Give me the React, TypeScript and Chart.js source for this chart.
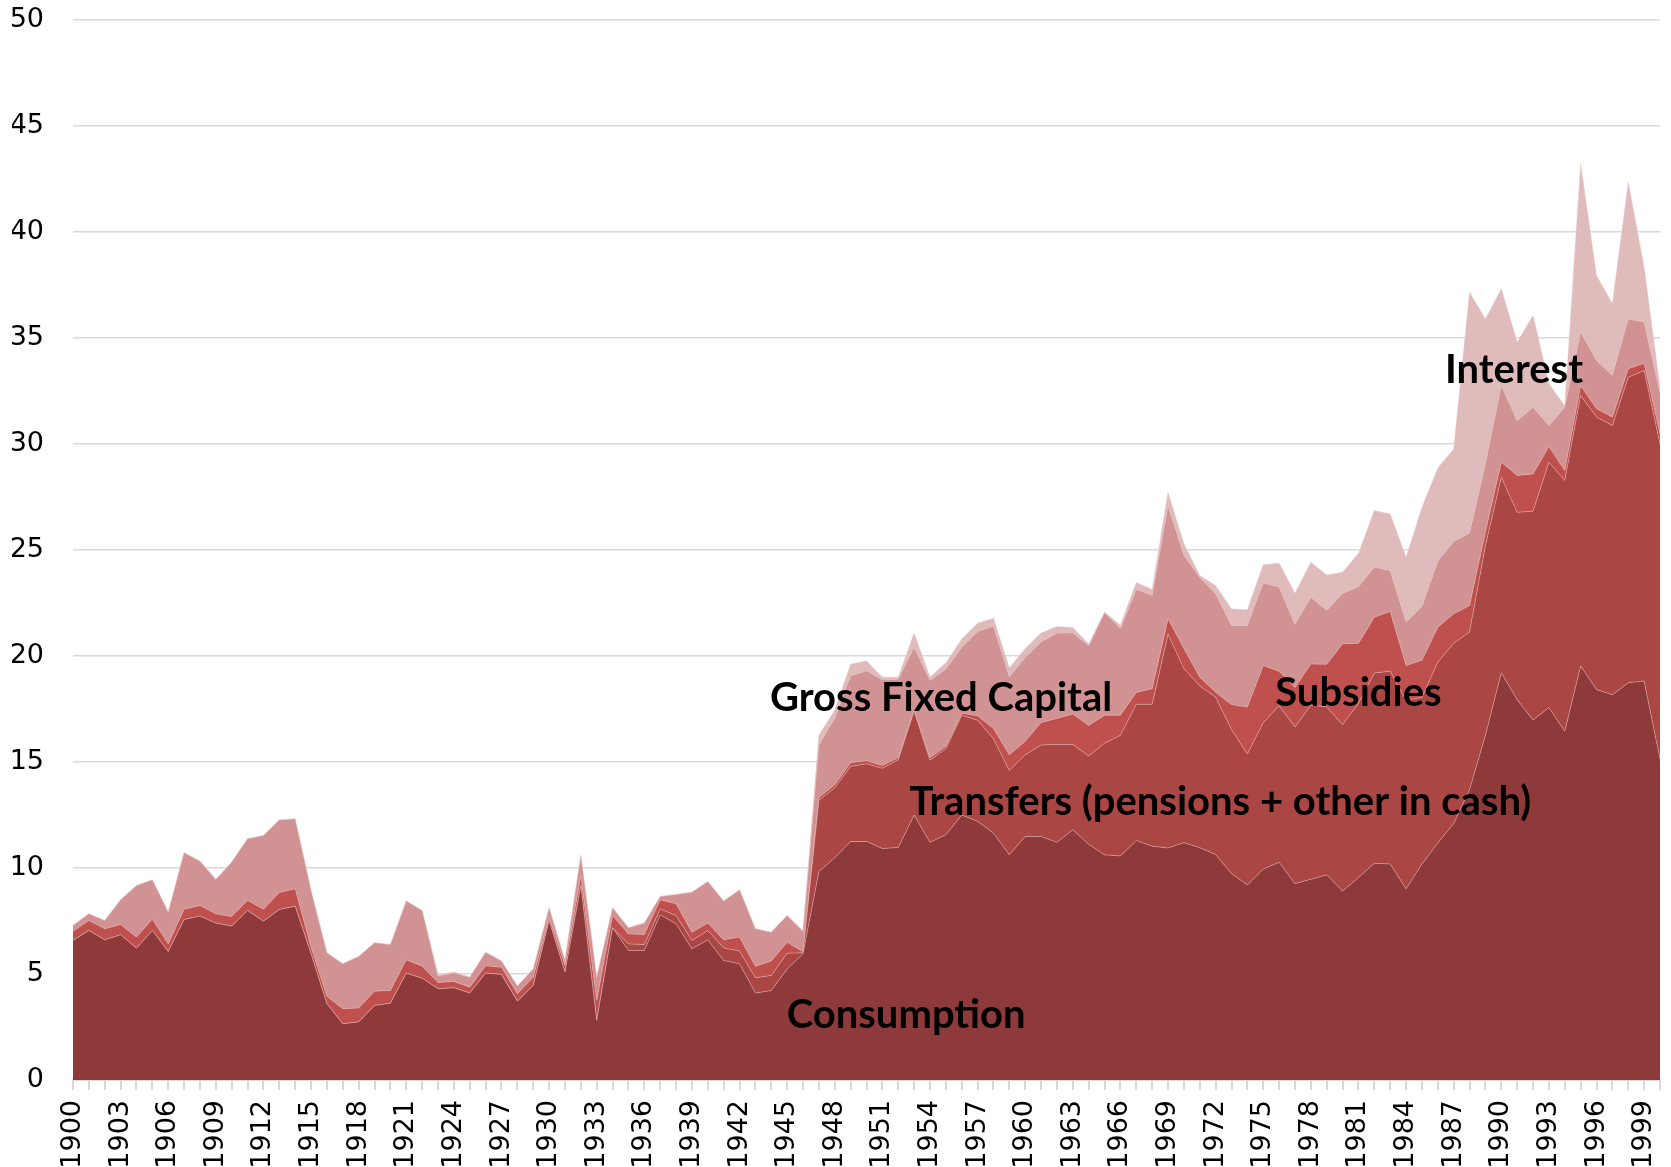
import React, { useEffect, useRef } from 'react';
import { Chart, registerables } from 'chart.js';

Chart.register(...registerables);

const years: number[] = Array.from({ length: 101 }, (_, i) => 1900 + i);

const consumption = [
  6.58, 7.05, 6.61, 6.85, 6.22, 7.05, 6.06, 7.57, 7.73, 7.40,
  7.26, 8.00, 7.49, 8.04, 8.20, 5.95, 3.60, 2.65, 2.74, 3.51,
  3.62, 5.04, 4.80, 4.30, 4.35, 4.10, 5.04, 4.98, 3.72, 4.46,
  7.52, 5.09, 9.17, 2.81, 7.18, 6.11, 6.11, 7.79, 7.37, 6.19,
  6.61, 5.64, 5.48, 4.10, 4.22, 5.24, 5.95, 9.83, 10.48, 11.25,
  11.25, 10.92, 10.97, 12.50, 11.21, 11.57, 12.50, 12.20, 11.65, 10.62,
  11.49, 11.49, 11.21, 11.80, 11.12, 10.62, 10.57, 11.30, 11.03, 10.94,
  11.20, 10.96, 10.64, 9.74, 9.20, 9.95, 10.27, 9.26, 9.47, 9.68,
  8.91, 9.55, 10.22, 10.19, 9.02, 10.19, 11.18, 12.10, 13.70, 16.26,
  19.21, 17.94, 16.98, 17.57, 16.45, 19.53, 18.42, 18.17, 18.74, 18.82,
  15.14,
];

const transfers = [
  0, 0, 0, 0, 0, 0, 0, 0, 0, 0,
  0, 0, 0, 0, 0, 0, 0, 0, 0, 0,
  0, 0, 0, 0, 0, 0, 0, 0, 0, 0,
  0, 0, 0, 0, 0, 0.31, 0.28, 0.28, 0.39, 0.39,
  0.44, 0.59, 0.60, 0.72, 0.71, 0.74, 0.05, 3.36, 3.30, 3.54,
  3.67, 3.78, 4.13, 4.90, 3.87, 4.05, 4.70, 4.77, 4.45, 3.98,
  3.85, 4.31, 4.62, 4.03, 4.16, 5.27, 5.69, 6.42, 6.69, 10.09,
  8.20, 7.64, 7.41, 6.79, 6.18, 6.90, 7.38, 7.39, 8.21, 7.92,
  7.85, 8.22, 8.98, 9.09, 8.88, 7.86, 8.53, 8.50, 7.43, 8.94,
  9.22, 8.84, 9.85, 11.57, 11.83, 12.76, 12.85, 12.70, 14.41, 14.65,
  14.86,
];

const subsidies = [
  0.44, 0.47, 0.52, 0.48, 0.52, 0.54, 0.36, 0.49, 0.50, 0.44,
  0.45, 0.47, 0.57, 0.80, 0.82, 0.32, 0.35, 0.71, 0.66, 0.68,
  0.60, 0.63, 0.57, 0.30, 0.30, 0.28, 0.35, 0.34, 0.35, 0.39,
  0.16, 0.31, 0.47, 0.94, 0.58, 0.47, 0.47, 0.43, 0.55, 0.39,
  0.35, 0.38, 0.66, 0.54, 0.68, 0.52, 0.05, 0.13, 0.15, 0.18,
  0.14, 0.13, 0.11, 0.05, 0.12, 0.12, 0.10, 0.21, 0.48, 0.74,
  0.64, 1.06, 1.22, 1.44, 1.44, 1.32, 0.95, 0.56, 0.74, 0.73,
  0.95, 0.40, 0.24, 1.18, 2.21, 2.70, 1.63, 1.87, 1.94, 2.01,
  3.82, 2.83, 2.63, 2.82, 1.65, 1.75, 1.65, 1.39, 1.25, 0.65,
  0.71, 1.73, 1.76, 0.74, 0.47, 0.47, 0.39, 0.40, 0.40, 0.34,
  0.48,
];

const grossFixedCapital = [
  0.27, 0.32, 0.39, 1.17, 2.43, 1.85, 1.50, 2.66, 2.09, 1.62,
  2.57, 2.91, 3.47, 3.43, 3.30, 2.67, 2.05, 2.12, 2.43, 2.28,
  2.17, 2.77, 2.63, 0.30, 0.40, 0.47, 0.64, 0.29, 0.36, 0.39,
  0.44, 0.24, 0.95, 1.10, 0.36, 0.29, 0.54, 0.16, 0.44, 1.89,
  1.96, 1.83, 2.23, 1.77, 1.36, 1.26, 0.95, 2.48, 3.15, 4.09,
  4.24, 4.04, 3.69, 2.95, 3.64, 3.65, 3.10, 3.97, 4.82, 3.67,
  3.95, 3.80, 4.03, 3.81, 3.76, 4.83, 4.09, 4.86, 4.40, 5.32,
  4.40, 4.71, 4.64, 3.73, 3.85, 3.89, 3.97, 2.96, 3.15, 2.54,
  2.37, 2.67, 2.37, 1.92, 2.05, 2.54, 3.11, 3.41, 3.42, 3.22,
  3.62, 2.59, 3.14, 0.99, 2.99, 2.51, 2.28, 1.96, 2.35, 1.93,
  1.92,
];

const interest = [
  0, 0, 0, 0, 0, 0, 0, 0, 0, 0,
  0, 0, 0, 0, 0, 0, 0, 0, 0, 0,
  0, 0, 0, 0.05, 0.05, 0, 0, 0, 0, 0,
  0, 0, 0, 0, 0, 0, 0, 0, 0, 0,
  0, 0, 0, 0, 0, 0, 0.05, 0.46, 0.37, 0.55,
  0.47, 0.13, 0.10, 0.68, 0.16, 0.29, 0.40, 0.40, 0.38, 0.42,
  0.42, 0.42, 0.31, 0.26, 0.09, 0.03, 0.15, 0.33, 0.28, 0.64,
  0.55, 0.09, 0.39, 0.78, 0.74, 0.87, 1.12, 1.48, 1.65, 1.67,
  1.00, 1.57, 2.66, 2.68, 3.06, 4.66, 4.40, 4.37, 11.36, 6.83,
  4.56, 3.70, 4.33, 1.97, 0.06, 7.94, 4.01, 3.38, 6.45, 2.60,
  0.28,
];

const seriesNames = ['Consumption', 'Transfers (pensions + other in cash)', 'Subsidies', 'Gross Fixed Capital', 'Interest'];
const seriesColors = ['#8E3A3A', '#AA4644', '#C0504D', '#D09292', '#E0BBBB'];

// in-chart labels, anchored at (category index position, value)
const labelTexts = ['Consumption', 'Transfers (pensions + other in cash)', 'Gross Fixed Capital', 'Subsidies', 'Interest'];
const labelIdx = [52.5, 72.3, 54.7, 81.0, 90.8];
const labelVal = [3.04, 13.09, 18.0, 18.23, 33.47];

const labelPlugin = {
  id: 'areaLabels',
  afterDatasetsDraw(chart: any) {
    const { ctx, scales } = chart;
    const xs = scales.x;
    const ys = scales.y;
    ctx.save();
    ctx.font = 'bold 40px Lato';
    ctx.fillStyle = '#000';
    ctx.textAlign = 'center';
    ctx.textBaseline = 'middle';
    labelTexts.forEach((t, i) => {
      const x = xs.getPixelForDecimal(labelIdx[i] / (years.length - 1));
      const y = ys.getPixelForValue(labelVal[i]);
      ctx.fillText(t, x, y);
    });
    ctx.restore();
  },
};

const zeroPad = (s: any) => {
  s.paddingLeft = 0;
  s.paddingRight = 0;
  s.paddingTop = 0;
  s.paddingBottom = 0;
};

const tickFont = { family: "'DejaVu Sans', sans-serif", size: 27 };

export default function App() {
  const ref = useRef<HTMLCanvasElement>(null);
  useEffect(() => {
    document.body.style.margin = '0';
    const canvas = ref.current!;
    const values = [consumption, transfers, subsidies, grossFixedCapital, interest];
    const chart = new Chart(canvas, {
      type: 'line',
      data: {
        labels: years.map(String),
        datasets: values.map((d, i) => ({
          label: seriesNames[i],
          data: d,
          backgroundColor: seriesColors[i],
          borderColor: 'rgba(236,196,196,0.55)',
          borderWidth: 0.8,
          fill: i === 0 ? 'origin' : '-1',
          pointRadius: 0,
          tension: 0,
        })),
      },
      options: {
        responsive: false,
        animation: false,
        devicePixelRatio: 1,
        layout: { padding: { left: 12, right: 11, top: 20, bottom: 0 } },
        plugins: { legend: { display: false }, tooltip: { enabled: false } },
        scales: {
          x: {
            offset: false,
            afterFit: (s: any) => { s.height = 87; zeroPad(s); },
            grid: { display: true, drawOnChartArea: false, drawTicks: true, tickLength: 10, color: '#D9D9D9', lineWidth: 2 },
            border: { display: true, color: '#D9D9D9', width: 2 },
            ticks: {
              autoSkip: false,
              maxRotation: 90,
              minRotation: 90,
              padding: 10,
              color: '#000',
              font: tickFont,
              callback: (_v: any, i: number) => (i % 3 === 0 ? String(years[i]) : ''),
            },
          },
          y: {
            stacked: true,
            min: 0,
            max: 50,
            afterFit: (s: any) => { s.width = 61; zeroPad(s); },
            grid: { color: '#D9D9D9', lineWidth: 1.5, drawTicks: false },
            border: { display: false },
            ticks: { stepSize: 5, padding: 29, color: '#000', font: tickFont },
          },
        },
      },
      plugins: [labelPlugin],
    });
    let alive = true;
    if ((document as any).fonts) {
      Promise.all([
        (document as any).fonts.load("27px 'DejaVu Sans'"),
        (document as any).fonts.load('bold 40px Lato'),
      ]).then(() => { if (alive) chart.update(); }).catch(() => {});
    }
    return () => { alive = false; chart.destroy(); };
  }, []);
  return (
    <div style={{ width: 1671, height: 1167 }}>
      <canvas ref={ref} width={1671} height={1167} />
    </div>
  );
}
